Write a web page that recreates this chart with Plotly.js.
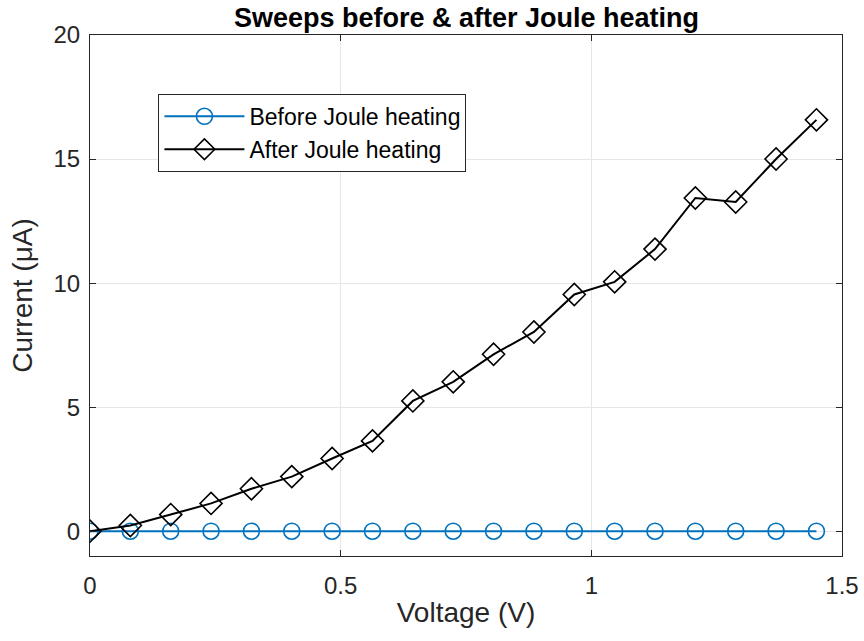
<!DOCTYPE html>
<html>
<head>
<meta charset="utf-8">
<script src="https://cdn.plot.ly/plotly-3.0.1.min.js"></script>
<style>html,body{margin:0;padding:0;background:#fff;}#chart{width:864px;height:641px;}</style>
</head>
<body>
<div id="chart"></div>
<script>
var voltage = [0, 0.0805, 0.161, 0.2415, 0.322, 0.4025, 0.483, 0.5635, 0.644, 0.7245, 0.805, 0.8855, 0.966, 1.0465, 1.127, 1.2075, 1.288, 1.3685, 1.449];
var beforeCurrent = [0, 0, 0, 0, 0, 0, 0, 0, 0, 0, 0, 0, 0, 0, 0, 0, 0, 0, 0];
var afterCurrent = [0, 0.23, 0.67, 1.12, 1.71, 2.2, 2.93, 3.64, 5.25, 6.02, 7.13, 8.03, 9.54, 10.05, 11.37, 13.43, 13.27, 15.0, 16.58];
var seriesNames = ["Before Joule heating", "After Joule heating"];
var xTicks = [0, 0.5, 1, 1.5];
var xTickText = ["0", "0.5", "1", "1.5"];
var yTicks = [0, 5, 10, 15, 20];

var FONT = "Arial, Liberation Sans, sans-serif";
var traces = [
  {x: voltage, y: beforeCurrent, name: seriesNames[0], type: "scatter", mode: "lines+markers",
   line: {color: "#0072BD", width: 2},
   marker: {symbol: "circle-open", size: 16, color: "#0072BD", line: {width: 1.6, color: "#0072BD"}}},
  {x: voltage, y: afterCurrent, name: seriesNames[1], type: "scatter", mode: "lines+markers",
   line: {color: "#000000", width: 2},
   marker: {symbol: "diamond-open", size: 17, color: "#000000", line: {width: 1.6, color: "#000000"}}}
];
var axisCommon = {
  showline: true, linecolor: "#262626", linewidth: 1, mirror: "ticks",
  ticks: "inside", ticklen: 6, tickcolor: "#262626",
  showgrid: true, gridcolor: "#e6e6e6", gridwidth: 1, zeroline: false,
  tickfont: {family: FONT, size: 24, color: "#262626"}
};
var layout = {
  width: 864, height: 641,
  margin: {l: 90, r: 22, t: 35, b: 85},
  paper_bgcolor: "#ffffff", plot_bgcolor: "#ffffff",
  title: {text: "<b>Sweeps before & after Joule heating</b>", x: 0.54, xanchor: "center", y: 0.973, yanchor: "middle",
          font: {family: FONT, size: 27, color: "#000000"}},
  xaxis: Object.assign({}, axisCommon, {
    range: [0, 1.5], tickvals: xTicks, ticktext: xTickText, ticklabelstandoff: 8,
    title: {text: "Voltage (V)", font: {family: FONT, size: 28, color: "#262626"}, standoff: 4}
  }),
  yaxis: Object.assign({}, axisCommon, {
    range: [-1, 20], tickvals: yTicks, ticklabelstandoff: 4,
    title: {text: "Current (μA)", font: {family: FONT, size: 28, color: "#262626"}, standoff: 12}
  }),
  showlegend: true,
  legend: {x: 0.091, y: 0.887, xanchor: "left", yanchor: "top",
           bgcolor: "#ffffff", bordercolor: "#262626", borderwidth: 1,
           font: {family: FONT, size: 23, color: "#000000"},
           itemwidth: 80, tracegroupgap: 0}
};
Plotly.newPlot("chart", traces, layout, {staticPlot: true, displayModeBar: false});
</script>
</body>
</html>
